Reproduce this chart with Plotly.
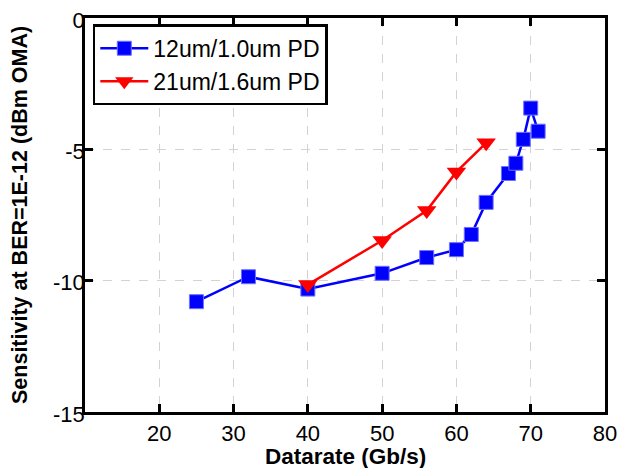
import plotly.graph_objects as go

blue_x = [25, 32, 40, 50, 56, 60, 62, 64, 67, 68, 69, 70, 71]
blue_y = [-10.8, -9.85, -10.32, -9.72, -9.12, -8.82, -8.24, -7.02, -5.92, -5.53, -4.62, -3.43, -4.31]
red_x = [40, 50, 56, 60, 64]
red_y = [-10.15, -8.47, -7.33, -5.86, -4.75]

x_ticks = [20, 30, 40, 50, 60, 70, 80]
y_ticks = [0, -5, -10, -15]

x_title = "Datarate (Gb/s)"
y_title = "Sensitivity at BER=1E-12 (dBm OMA)"

font_family = "Liberation Sans, Arial, Helvetica, sans-serif"

fig = go.Figure()
fig.add_trace(go.Scatter(
    x=blue_x, y=blue_y, mode="lines+markers", name="12um/1.0um PD",
    line=dict(color="#0000ff", width=2.5),
    marker=dict(symbol="square", size=14, color="#0000ff",
                line=dict(color="#6f6fff", width=1)),
))
fig.add_trace(go.Scatter(
    x=red_x, y=red_y, mode="lines+markers", name="21um/1.6um PD",
    line=dict(color="#ff0000", width=2.5),
    marker=dict(symbol="triangle-down", size=17, color="#ff0000",
                line=dict(color="#ff0000", width=0)),
))

axis_common = dict(
    showline=True, linecolor="black", linewidth=2.5, mirror="ticks",
    ticks="inside", ticklen=8, tickwidth=2.5, tickcolor="black",
    showgrid=True, gridcolor="#d3d3d3", gridwidth=1, griddash="dash",
    zeroline=False, automargin=False, ticklabeloverflow="allow",
    tickfont=dict(size=22, color="black", family=font_family),
)

fig.update_xaxes(range=[10, 80], tickvals=x_ticks, ticktext=[str(v) for v in x_ticks],
                 **axis_common)
fig.update_yaxes(range=[-15, 0], tickvals=y_ticks, ticktext=[str(v) for v in y_ticks],
                 ticklabelstandoff=-7, ticklabelshift=2, **axis_common)

fig.add_annotation(text="<b>" + x_title + "</b>", xref="paper", yref="paper",
                   x=0.5, y=-0.112, xanchor="center", yanchor="middle", showarrow=False,
                   font=dict(size=22.5, family=font_family, color="black"))
fig.add_annotation(text="<b>" + y_title + "</b>", xref="paper", yref="paper",
                   x=-0.125, y=0.5, xanchor="center", yanchor="middle", showarrow=False,
                   textangle=-90, font=dict(size=21.5, family=font_family, color="black"))

fig.update_layout(
    width=630, height=468,
    margin=dict(l=77, r=33, t=10, b=64),
    paper_bgcolor="white", plot_bgcolor="white",
    font=dict(family=font_family, color="black"),
    legend=dict(x=0.015, y=0.984, xanchor="left", yanchor="top",
                bgcolor="white", bordercolor="black", borderwidth=2.5,
                font=dict(size=23, family=font_family, color="black"),
                itemwidth=48, tracegroupgap=0),
    showlegend=True,
)

fig.write_html("out.html")
